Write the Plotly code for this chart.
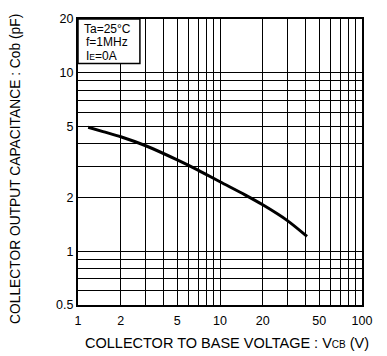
import plotly.graph_objects as go

# Collector output capacitance vs collector-to-base voltage
vcb = [1.18, 1.5, 2, 3, 5, 7, 10, 15, 20, 30, 41]
cob = [4.95, 4.68, 4.38, 3.9, 3.25, 2.85, 2.45, 2.07, 1.82, 1.48, 1.21]

x_major = [1, 2, 5, 10, 20, 50, 100]
x_major_text = ["1", "2", "5", "10", "20", "50", "100"]
x_minor = [3, 4, 6, 7, 8, 9, 30, 40, 60, 70, 80, 90]

y_major = [0.5, 1, 2, 5, 10, 20]
y_major_text = ["0.5", "1", "2", "5", "10", "20"]
y_minor = [0.6, 0.7, 0.8, 0.9, 3, 4, 6, 7, 8, 9]

FONT = "Liberation Sans, Arial, sans-serif"

fig = go.Figure()
fig.add_trace(go.Scatter(
    x=vcb, y=cob, mode="lines",
    line=dict(color="black", width=3, shape="spline", smoothing=0.8),
    hoverinfo="skip", showlegend=False,
))

axis_common = dict(
    type="log",
    showline=True, mirror=True, linecolor="black", linewidth=2,
    showgrid=True, gridcolor="black", gridwidth=1,
    ticks="", zeroline=False,
    tickfont=dict(family=FONT, size=12.5, color="black"),
    tickmode="array",
)

fig.update_xaxes(
    **axis_common,
    range=[0, 2],
    tickvals=x_major, ticktext=x_major_text,
    ticklabelstandoff=3,
    minor=dict(tickvals=x_minor, showgrid=True, gridcolor="black", gridwidth=1, ticks=""),
)
fig.update_yaxes(
    **axis_common,
    range=[-0.30103, 1.30103],
    tickvals=y_major, ticktext=y_major_text,
    minor=dict(tickvals=y_minor, showgrid=True, gridcolor="black", gridwidth=1, ticks=""),
)

# Measurement-condition box in the upper-left corner
fig.add_shape(type="rect", xref="paper", yref="paper",
              x0=0, x1=0.218, y0=0.844, y1=1,
              fillcolor="white", line=dict(color="black", width=1.5), layer="above")

cond_lines = [
    ("Ta=25°C", 0.017, 0.965),
    ("f=1MHz", 0.024, 0.918),
    ("I<span style='font-size:8.5px'>E</span>=0A", 0.024, 0.871),
]
for txt, xp, yp in cond_lines:
    fig.add_annotation(text=txt, xref="paper", yref="paper", x=xp, y=yp,
                       xanchor="left", yanchor="middle", showarrow=False,
                       borderpad=0,
                       font=dict(family=FONT, size=12, color="black"))

fig.add_annotation(
    text="COLLECTOR OUTPUT CAPACITANCE : Cob (pF)",
    xref="paper", yref="paper", x=-0.222, y=0.4755,
    xanchor="center", yanchor="middle", textangle=-90, showarrow=False,
    font=dict(family=FONT, size=13.8, color="black"),
)
fig.add_annotation(
    text="COLLECTOR TO BASE VOLTAGE : V<span style='font-size:10px'>CB</span> (V)",
    xref="paper", yref="paper", x=0.525, y=-0.133,
    xanchor="center", yanchor="middle", showarrow=False,
    font=dict(family=FONT, size=14.5, color="black"),
)

fig.update_layout(
    width=387, height=356,
    margin=dict(l=78, r=25, t=19, b=51),
    paper_bgcolor="white", plot_bgcolor="white",
    showlegend=False,
)

fig.write_html("out.html")
